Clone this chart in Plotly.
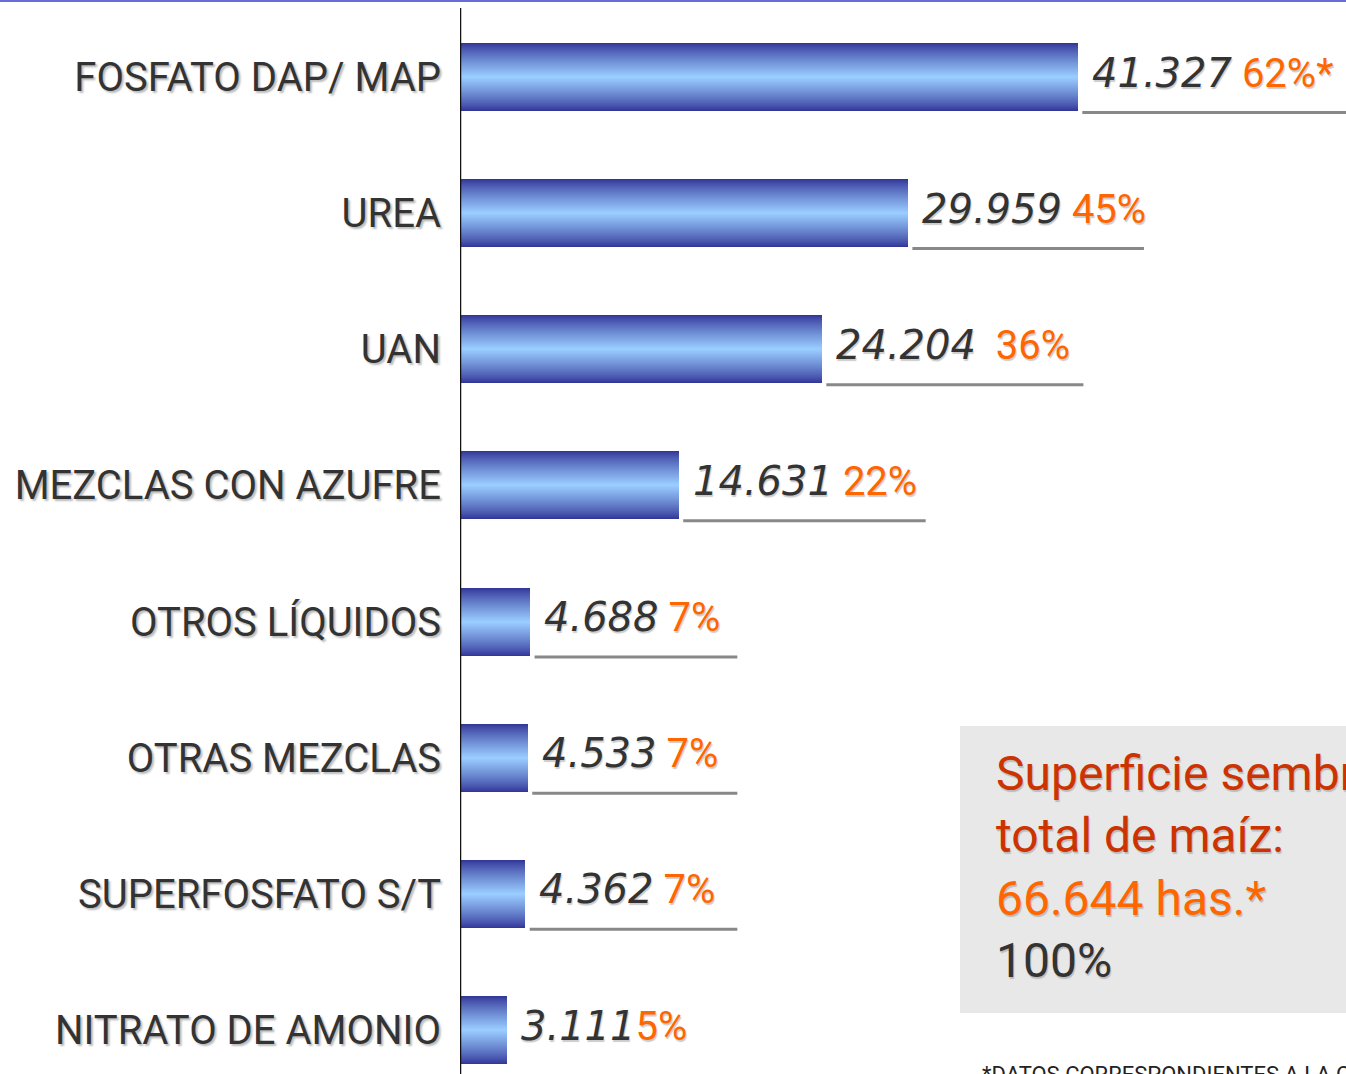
import plotly.graph_objects as go

categories = ["FOSFATO DAP/ MAP", "UREA", "UAN", "MEZCLAS CON AZUFRE",
              "OTROS LÍQUIDOS", "OTRAS MEZCLAS", "SUPERFOSFATO S/T",
              "NITRATO DE AMONIO"]
values = [41.327, 29.959, 24.204, 14.631, 4.688, 4.533, 4.362, 3.111]
value_labels = ["41.327", "29.959", "24.204", "14.631", "4.688", "4.533", "4.362", "3.111"]
pct_labels = ["62%*", "45%", "36%", "22%", "7%", "7%", "7%", "5%"]
pct_gap = [" ", " ", "  ", " ", " ", " ", " ", ""]
underline_end = [59.3, 45.75, 41.7, 31.15, 18.55, 18.55, 18.55, None]

total_text = ["Superficie sembrada", "total de maíz:", "66.644 has.*", "100%"]
footnote = "*DATOS CORRESPONDIENTES A LA CAMPAÑA"

W, H = 1346, 1074
L = 460
EDGE = (0x33, 0x36, 0x99)
CENTER = (0x99, 0xcc, 0xff)

ypos = list(range(len(categories)))

fig = go.Figure()

# fake a vertical gradient by stacking narrower, lighter bars on top of each other
n_layers = 34
for k in range(n_layers):
    t = (k / (n_layers - 1)) ** 0.85
    c = tuple(round(EDGE[i] + (CENTER[i] - EDGE[i]) * t) for i in range(3))
    fig.add_trace(go.Bar(
        x=values, y=ypos, orientation="h",
        width=0.5 * (1 - k / n_layers),
        marker=dict(color="rgb(%d,%d,%d)" % c, line=dict(width=0)),
        hoverinfo="skip", showlegend=False,
    ))

annotations = []
shapes = []
for i, v in enumerate(values):
    txt = ("<span style='font-family:DejaVu Sans'><i>%s</i></span>%s"
           "<span style='color:#ff6600'>%s</span>"
           % (value_labels[i], pct_gap[i].replace(" ", "&nbsp;"), pct_labels[i]))
    annotations.append(dict(
        x=v, y=i, xref="x", yref="y", text=txt, showarrow=False,
        xanchor="left", yanchor="middle", xshift=12, yshift=4,
        font=dict(family="Roboto", size=40, color="#333333",
                  shadow="1px 2px 1px #cccccc"),
    ))
    if underline_end[i] is not None:
        shapes.append(dict(type="line", xref="x", yref="y",
                           x0=v + 0.3, x1=underline_end[i], y0=i + 0.26, y1=i + 0.26,
                           line=dict(color="#888888", width=3)))

# summary box
shapes.append(dict(type="rect", xref="paper", yref="paper",
                   x0=(960 - L) / (W - L), x1=1.05,
                   y0=1 - 1013 / H, y1=1 - 726 / H,
                   fillcolor="#e8e8e8", line=dict(width=0), layer="below"))
box_txt = ("<span style='color:#cc3300'>%s<br>%s</span><br>"
           "<span style='color:#ff6600'>%s</span><br>"
           "<span style='color:#333333'>%s</span>" % tuple(total_text))
annotations.append(dict(
    x=(994 - L) / (W - L), y=1 - 743 / H, xref="paper", yref="paper",
    text=box_txt, showarrow=False, xanchor="left", yanchor="top", align="left",
    font=dict(family="Roboto", size=48, shadow="1px 2px 1px #bbbbbb"),
))
annotations.append(dict(
    x=(980 - L) / (W - L), y=1 - 1060 / H, xref="paper", yref="paper",
    text=footnote, showarrow=False, xanchor="left", yanchor="top",
    font=dict(family="Roboto", size=22, color="#222222"),
))

# axis line and top rule
shapes.append(dict(type="line", xref="x", yref="paper", x0=0, x1=0,
                   y0=0, y1=1 - 8 / H, line=dict(color="#111111", width=2.5)))
shapes.append(dict(type="line", xref="paper", yref="paper",
                   x0=-L / (W - L), x1=1, y0=1 - 1 / H, y1=1 - 1 / H,
                   line=dict(color="#6a6ad8", width=2)))

fig.update_layout(
    width=W, height=H,
    margin=dict(l=L, r=0, t=0, b=0),
    paper_bgcolor="white", plot_bgcolor="white",
    barmode="overlay", bargap=0,
    annotations=annotations, shapes=shapes,
    xaxis=dict(visible=False, range=[0, (W - L) / 14.95]),
    yaxis=dict(
        range=[7.323, -0.5656], tickvals=ypos, ticktext=categories,
        showgrid=False, zeroline=False, showline=False, ticks="",
        ticklabelstandoff=18,
        tickfont=dict(family="Roboto", size=40, color="#333333",
                      shadow="2px 2px 2px #bbbbbb"),
    ),
)

fig.write_html("out.html", config={"displayModeBar": False},
               post_script="document.body.style.margin='0';document.body.style.overflow='hidden';")
